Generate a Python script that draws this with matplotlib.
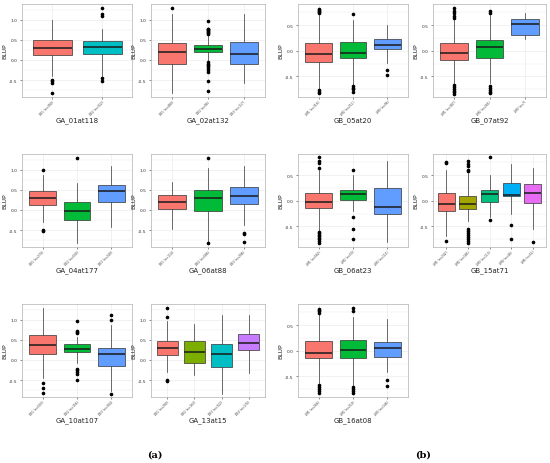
import matplotlib.pyplot as plt
import numpy as np

# ggplot-like colours per number of groups
pal = {
    2: ['#F8766D', '#00BFC4'],
    3: ['#F8766D', '#00BA38', '#619CFF'],
    4: ['#F8766D', '#7CAE00', '#00BFC4', '#C77CFF'],
    5: ['#F8766D', '#A3A500', '#00BF7D', '#00B0F6', '#E76BF3'],
}

# panel names
names = ['GA_01at118', 'GA_02at132', 'GB_05at20', 'GB_07at92',
         'GA_04at177', 'GA_06at88', 'GB_06at23', 'GB_15at71',
         'GA_10at107', 'GA_13at15', 'GB_16at08']

# tick labels
labels = {
    'GA_01at118': ['DE1 (n=390)', 'DE2 (n=322)'],
    'GA_02at132': ['DE1 (n=480)', 'DE2 (n=96)', 'DE3 (n=117)'],
    'GB_05at20': ['LM1 (n=316)', 'LM2 (n=211)', 'LM3 (n=96)'],
    'GB_07at92': ['LM1 (n=387)', 'LM2 (n=265)', 'LM3 (n=7)'],
    'GA_04at177': ['DE1 (n=270)', 'DE2 (n=500)', 'DE3 (n=240)'],
    'GA_06at88': ['DE1 (n=114)', 'DE2 (n=586)', 'DE3 (n=298)'],
    'GB_06at23': ['LM1 (n=560)', 'LM2 (n=50)', 'LM3 (n=115)'],
    'GB_15at71': ['LM1 (n=242)', 'LM2 (n=185)', 'LM3 (n=113)', 'LM4 (n=46)', 'LM5 (n=52)'],
    'GA_10at107': ['DE1 (n=503)', 'DE2 (n=156)', 'DE3 (n=304)'],
    'GA_13at15': ['DE1 (n=290)', 'DE2 (n=163)', 'DE3 (n=322)', 'DE4 (n=170)'],
    'GB_16at08': ['LM1 (n=266)', 'LM2 (n=219)', 'LM3 (n=146)'],
}

# box stats: [whislo, q1, med, q3, whishi]
boxes = {
    'GA_01at118': [[-0.40, 0.12, 0.29, 0.50, 1.00], [-0.40, 0.14, 0.32, 0.47, 0.78]],
    'GA_02at132': [[-0.83, -0.10, 0.21, 0.42, 1.13], [-0.04, 0.20, 0.28, 0.37, 0.62], [-0.57, -0.10, 0.15, 0.45, 1.13]],
    'GB_05at20': [[-0.74, -0.22, -0.07, 0.15, 0.69], [-0.66, -0.15, -0.05, 0.18, 0.60], [-0.24, 0.04, 0.12, 0.23, 0.50]],
    'GB_07at92': [[-0.63, -0.18, -0.05, 0.15, 0.60], [-0.63, -0.14, 0.07, 0.21, 0.69], [0.23, 0.30, 0.53, 0.62, 0.74]],
    'GA_04at177': [[-0.30, 0.12, 0.30, 0.47, 0.88], [-0.81, -0.24, -0.02, 0.21, 0.68], [-0.42, 0.21, 0.46, 0.63, 1.10]],
    'GA_06at88': [[-0.48, 0.03, 0.21, 0.38, 0.70], [-0.81, -0.02, 0.29, 0.50, 1.03], [-0.37, 0.15, 0.35, 0.56, 1.10]],
    'GB_06at23': [[-0.58, -0.14, -0.02, 0.16, 0.60], [-0.19, 0.01, 0.13, 0.21, 0.50], [-0.81, -0.26, -0.12, 0.24, 0.78]],
    'GB_15at71': [[-0.69, -0.20, -0.06, 0.15, 0.60], [-0.39, -0.16, -0.06, 0.10, 0.54], [-0.31, -0.02, 0.13, 0.21, 0.50],
                  [-0.25, 0.09, 0.12, 0.35, 0.71], [-0.54, -0.04, 0.16, 0.32, 0.63]],
    'GA_10at107': [[-0.45, 0.14, 0.38, 0.62, 1.28], [-0.07, 0.20, 0.26, 0.40, 0.57], [-0.77, -0.14, 0.14, 0.30, 0.87]],
    'GA_13at15': [[-0.31, 0.12, 0.30, 0.46, 0.97], [-0.38, -0.08, 0.21, 0.46, 0.90], [-0.85, -0.17, 0.15, 0.39, 1.11],
                  [-0.32, 0.24, 0.41, 0.64, 1.11]],
    'GB_16at08': [[-0.63, -0.15, -0.05, 0.19, 0.71], [-0.69, -0.15, 0.01, 0.20, 0.66], [-0.41, -0.12, 0.05, 0.18, 0.62]],
}

# outliers per group
fliers = {
    'GA_01at118': [[-0.49, -0.53, -0.58, -0.81], [1.13, 1.08, 1.29, -0.46, -0.52]],
    'GA_02at132': [[1.28], [0.97, 0.78, 0.76, 0.74, 0.72, 0.70, 0.67, 0.65, -0.06, -0.10, -0.13, -0.16, -0.20, -0.25, -0.30, -0.53, -0.76], []],
    'GB_05at20': [[0.82, 0.80, 0.78, 0.76, 0.73, -0.77, -0.80, -0.82], [0.71, -0.69, -0.72, -0.75, -0.81], [-0.37, -0.48]],
    'GB_07at92': [[0.63, 0.68, 0.73, 0.78, 0.84, -0.66, -0.70, -0.74, -0.78, -0.81, -0.84],
                  [0.77, 0.74, -0.69, -0.73, -0.77, -0.80, -0.82], []],
    'GA_04at177': [[1.00, -0.49, -0.52], [1.28], []],
    'GA_06at88': [[], [1.28, -0.83], [-0.56, -0.59, -0.79]],
    'GB_06at23': [[0.63, 0.74, 0.77, 0.85, -0.60, -0.63, -0.66, -0.69, -0.72, -0.75, -0.78, -0.82], [0.59, -0.31, -0.55, -0.74], []],
    'GB_15at71': [[0.74, 0.76, -0.79], [0.57, 0.60, 0.67, 0.71, 0.77, -0.55, -0.59, -0.63, -0.67, -0.71, -0.75, -0.79, -0.82],
                  [0.85, -0.38], [-0.48, -0.75], [-0.81]],
    'GA_10at107': [[-0.57, -0.69, -0.81], [0.97, 0.73, 0.70, 0.67, -0.22, -0.26, -0.30, -0.34, -0.50], [1.11, 1.00, -0.85]],
    'GA_13at15': [[1.29, 1.06, -0.49, -0.52], [], [], []],
    'GB_16at08': [[0.82, 0.79, 0.77, 0.74, -0.66, -0.70, -0.74, -0.78, -0.82],
                  [0.83, 0.78, -0.71, -0.75, -0.79, -0.83], [-0.56, -0.69]],
}

W, H = 550, 464
fig = plt.figure(figsize=(5.5, 4.64), dpi=100)

cols = [(22, 132), (151, 265), (298, 408), (433, 546)]
rows = [(5, 98), (155, 248), (305, 398)]

for k, name in enumerate(names):
    r, c = divmod(k, 4)
    x0, x1 = cols[c]
    y0, y1 = rows[r]
    ax = fig.add_axes([x0 / W, 1 - y1 / H, (x1 - x0) / W, (y1 - y0) / H])
    n = len(boxes[name])
    stats = []
    for b, f in zip(boxes[name], fliers[name]):
        stats.append(dict(whislo=b[0], q1=b[1], med=b[2], q3=b[3], whishi=b[4], fliers=f))
    res = ax.bxp(stats, positions=np.arange(1, n + 1), widths=0.78, patch_artist=True,
                 showcaps=False,
                 boxprops=dict(edgecolor='#333333', linewidth=0.5),
                 medianprops=dict(color='#1a1a1a', linewidth=1.1),
                 whiskerprops=dict(color='#333333', linewidth=0.5),
                 flierprops=dict(marker='o', markersize=1.6, markerfacecolor='black',
                                 markeredgecolor='black'))
    for patch, col in zip(res['boxes'], pal[n]):
        patch.set_facecolor(col)
    for wl in res['whiskers']:
        wl.set_zorder(1)
    ax.set_xlim(0.4, n + 0.6)
    if name.startswith('GA'):
        ax.set_ylim(-0.92, 1.39)
        ax.set_yticks([-0.5, 0.0, 0.5, 1.0])
        ax.set_yticklabels(['-0.5', '0.0', '0.5', '1.0'])
        ax.set_yticks([-0.75, -0.25, 0.25, 0.75, 1.25], minor=True)
    else:
        ax.set_ylim(-0.9, 0.91)
        ax.set_yticks([-0.5, 0.0, 0.5])
        ax.set_yticklabels(['-0.5', '0.0', '0.5'])
        ax.set_yticks([-0.75, -0.25, 0.25, 0.75], minor=True)
    ax.set_xticks(np.arange(1, n + 1))
    ax.set_xticklabels(labels[name], rotation=45, ha='right', rotation_mode='anchor')
    ax.tick_params(axis='y', labelsize=3.2, colors='#333333', length=1.5, width=0.4, pad=1.5)
    ax.tick_params(axis='x', labelsize=2.1, colors='#333333', length=1.2, width=0.4, pad=0.6)
    ax.tick_params(axis='y', which='minor', length=0)
    ax.grid(True, which='major', color='#ebebeb', linewidth=0.5)
    ax.grid(True, which='minor', axis='y', color='#ebebeb', linewidth=0.3)
    ax.set_axisbelow(True)
    for s in ax.spines.values():
        s.set_color('#b0b0b0')
        s.set_linewidth(0.5)
    ax.set_ylabel('BLUP', fontsize=4.5, labelpad=1.5, color='#222222')
    ax.set_xlabel(name, fontsize=5, labelpad=0.3, color='#222222')

fig.text(147 / W, 1 - 455 / H, '(a)', fontsize=7, family='serif', fontweight='bold', va='center')
fig.text(415 / W, 1 - 455 / H, '(b)', fontsize=7, family='serif', fontweight='bold', va='center')

fig.savefig('out.png', dpi=100)
